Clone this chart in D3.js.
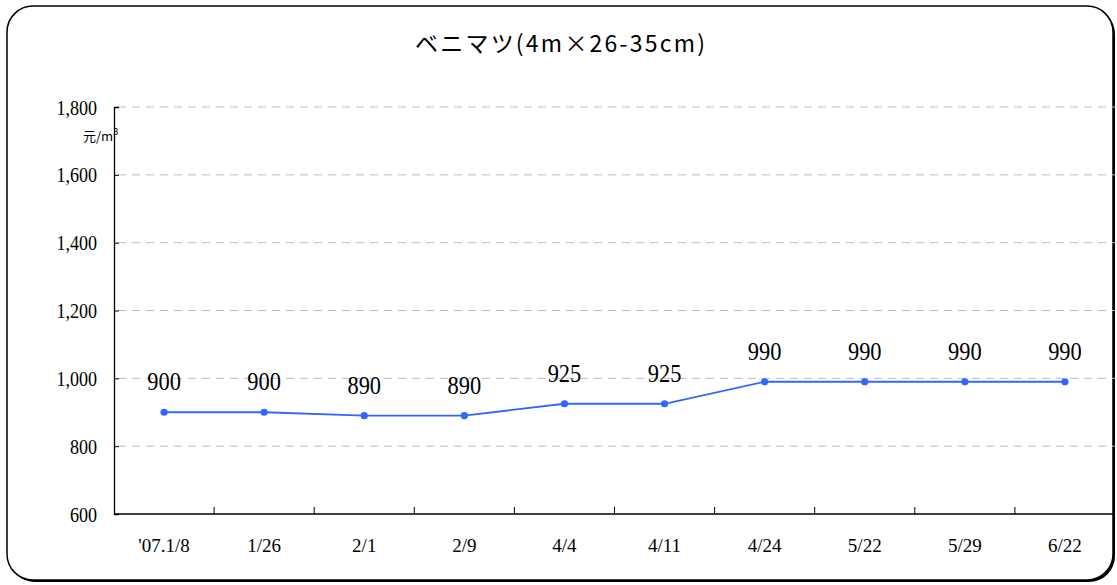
<!DOCTYPE html>
<html><head><meta charset="utf-8">
<script src="https://cdn.jsdelivr.net/npm/d3@7"></script>
<style>html,body{margin:0;padding:0;background:#fff;}</style>
</head><body>
<svg id="chart" width="1117" height="585"></svg>
<script>
const categories = ["'07.1/8","1/26","2/1","2/9","4/4","4/11","4/24","5/22","5/29","6/22"];
const values = [900,900,890,890,925,925,990,990,990,990];
const yTicks = [600,800,1000,1200,1400,1600,1800];
const title = "ベニマツ(4m×26-35cm)";
const unitLabel = "元/m";

const serif = "'Liberation Serif'";
const svg = d3.select("#chart");
// frame with shadow
svg.append("rect").attr("x",9).attr("y",8).attr("width",1106).attr("height",574)
  .attr("rx",26).attr("fill","#000");
svg.append("rect").attr("x",7).attr("y",6).attr("width",1106).attr("height",574)
  .attr("rx",26).attr("fill","#fff").attr("stroke","#000").attr("stroke-width",1.5);

const mLeft = 114, mRight = 1115, mTop = 107, mBottom = 514;
const x = d3.scaleBand().domain(categories).range([mLeft,mRight]);
const y = d3.scaleLinear().domain([600,1800]).range([mBottom,mTop]);

// gridlines
svg.append("g").selectAll("line").data(yTicks.filter(d=>d>600)).join("line")
  .attr("x1",mLeft+4).attr("x2",mRight).attr("y1",d=>y(d)).attr("y2",d=>y(d))
  .attr("stroke","#bbb").attr("stroke-width",1).attr("stroke-dasharray","8,6");

// y axis
const yAxis = d3.axisLeft(y).tickValues(yTicks).tickSize(-5).tickPadding(0)
  .tickFormat(d3.format(","));
const gy = svg.append("g").attr("transform",`translate(${mLeft},0)`).call(yAxis);
gy.attr("font-family",serif);
gy.select(".domain").attr("stroke","#000").attr("stroke-width",1.3);
gy.selectAll(".tick line").attr("stroke","#000");
gy.selectAll(".tick text").attr("font-family",serif).attr("font-size",19).attr("fill","#000")
  .attr("x",0).attr("dy",null).attr("y",0)
  .attr("transform","translate(-17,7) scale(0.95,1.12)");

// x axis
const gx = svg.append("g").attr("transform",`translate(0,${mBottom})`);
gx.append("line").attr("x1",mLeft).attr("x2",mRight).attr("stroke","#000").attr("stroke-width",1.3);
gx.selectAll("line.t").data(categories.slice(1)).join("line").attr("class","t")
  .attr("x1",d=>x(d)).attr("x2",d=>x(d)).attr("y1",0).attr("y2",-7).attr("stroke","#000");
gx.selectAll("text").data(categories).join("text")
  .attr("x",d=>x(d)+x.bandwidth()/2).attr("y",38).attr("text-anchor","middle")
  .attr("font-family",serif).attr("font-size",19)
  .text(d=>d);

// unit
const ut = svg.append("text").attr("x",83).attr("y",141)
  .attr("font-family","'Noto Sans CJK JP',sans-serif").attr("font-size",13).text(unitLabel);
ut.append("tspan").attr("dy",-6).attr("font-size",9).text("3");

// title
svg.append("text").attr("x",415).attr("y",52)
  .attr("font-family","'Noto Sans CJK JP',sans-serif").attr("font-size",23)
  .attr("textLength",290).attr("lengthAdjust","spacing").text(title);

// line
const cx = d=>x(d)+x.bandwidth()/2;
svg.append("path").datum(values.map((v,i)=>[cx(categories[i]),y(v)]))
  .attr("d",d3.line()).attr("fill","none").attr("stroke","#3366ff").attr("stroke-width",1.8);
svg.append("g").selectAll("circle").data(values).join("circle")
  .attr("cx",(d,i)=>cx(categories[i])).attr("cy",d=>y(d)).attr("r",3.6).attr("fill","#3366ff");
svg.append("g").selectAll("g").data(values).join("g")
  .attr("transform",(d,i)=>`translate(${cx(categories[i])},${y(d)-22}) scale(1.18,1.28)`)
  .append("text").attr("text-anchor","middle")
  .attr("font-family",serif).attr("font-size",19)
  .text(d=>d);
</script>
</body></html>
